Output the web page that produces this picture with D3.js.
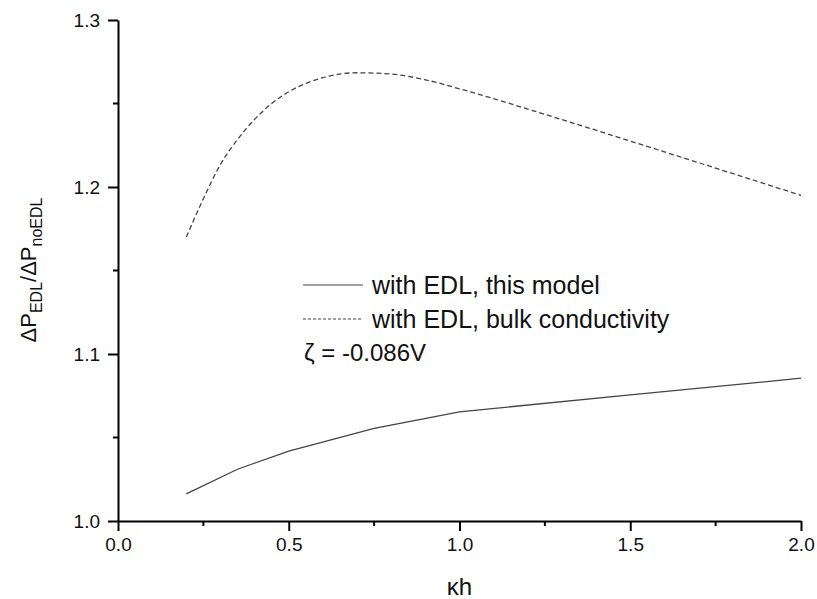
<!DOCTYPE html>
<html>
<head>
<meta charset="utf-8">
<script src="https://cdn.jsdelivr.net/npm/d3@7"></script>
<style>
  html, body { margin: 0; padding: 0; background: #fff; }
  svg { display: block; font-family: "Liberation Sans", Arial, sans-serif; }
</style>
</head>
<body>
<svg id="chart" width="817" height="599"></svg>
<script>
// Pressure-drop ratio versus κh
const modelX = [0.2, 0.35, 0.5, 0.75, 1.0, 1.5, 2.0];
const modelY = [1.0162, 1.031, 1.0419, 1.0555, 1.0654, 1.0755, 1.0855];

const bulkX = [0.2, 0.25, 0.3, 0.35, 0.4, 0.45, 0.5, 0.6, 0.7, 0.8, 0.9, 1.0, 1.25, 1.5, 1.75, 2.0];
const bulkY = [1.170, 1.193, 1.2135, 1.2285, 1.2405, 1.250, 1.257, 1.2655, 1.2684, 1.2676, 1.2642, 1.2588, 1.2435, 1.2275, 1.2113, 1.195];

const xTicks = [0.0, 0.5, 1.0, 1.5, 2.0];
const xMinor = [0.25, 0.75, 1.25, 1.75];
const yTicks = [1.0, 1.1, 1.2, 1.3];
const yMinor = [1.05, 1.15, 1.25];

const legendLabels = ["with EDL, this model", "with EDL, bulk conductivity"];
const zetaLabel = "ζ = -0.086V";

const svg = d3.select("#chart");
const x = d3.scaleLinear().domain([0, 2]).range([118, 801]);
const y = d3.scaleLinear().domain([1.0, 1.3]).range([521, 20]);

const lineColor = "#444";

// axes
const xAxis = d3.axisBottom(x).tickValues(xTicks).tickFormat(d3.format(".1f")).tickSize(10).tickPadding(7).tickSizeOuter(0);
const yAxis = d3.axisLeft(y).tickValues(yTicks).tickFormat(d3.format(".1f")).tickSize(10).tickPadding(8).tickSizeOuter(0);

const gx = svg.append("g").attr("transform", `translate(0,${y(1.0)})`).call(xAxis);
const gy = svg.append("g").attr("transform", `translate(${x(0)},0)`).call(yAxis);

[gx, gy].forEach(g => {
  g.select(".domain").attr("stroke", "#000").attr("stroke-width", 2);
  g.selectAll(".tick line").attr("stroke", "#000").attr("stroke-width", 2);
  g.selectAll(".tick text").attr("fill", "#111").style("font-size", "19px").style("font-family", "'Liberation Sans', Arial, sans-serif");
});

// minor ticks
gx.selectAll(".minor").data(xMinor).enter().append("line")
  .attr("x1", d => x(d)).attr("x2", d => x(d)).attr("y1", 0).attr("y2", 5)
  .attr("stroke", "#000").attr("stroke-width", 2);
gy.selectAll(".minor").data(yMinor).enter().append("line")
  .attr("y1", d => y(d)).attr("y2", d => y(d)).attr("x1", 0).attr("x2", -5)
  .attr("stroke", "#000").attr("stroke-width", 2);

// curves
const line = d3.line().x(d => x(d[0])).y(d => y(d[1]));
const bulkLine = d3.line().x(d => x(d[0])).y(d => y(d[1])).curve(d3.curveMonotoneX);

svg.append("path")
  .datum(modelX.map((v, i) => [v, modelY[i]]))
  .attr("d", line).attr("fill", "none")
  .attr("stroke", lineColor).attr("stroke-width", 1.3);

svg.append("path")
  .datum(bulkX.map((v, i) => [v, bulkY[i]]))
  .attr("d", bulkLine).attr("fill", "none")
  .attr("stroke", lineColor).attr("stroke-width", 1.3)
  .attr("stroke-dasharray", "5,3");

// legend
const legend = svg.append("g");
const legendRows = [
  { label: legendLabels[0], dash: null, yy: 285 },
  { label: legendLabels[1], dash: "3,2", yy: 319 }
];
legendRows.forEach(r => {
  legend.append("line")
    .attr("x1", 303).attr("x2", 363).attr("y1", r.yy).attr("y2", r.yy)
    .attr("stroke", lineColor).attr("stroke-width", 1)
    .attr("stroke-dasharray", r.dash);
  legend.append("text")
    .attr("x", 372).attr("y", r.yy + 9)
    .style("font-size", "25px").attr("fill", "#111")
    .text(r.label);
});
legend.append("text")
  .attr("x", 304).attr("y", 361)
  .style("font-size", "24px").attr("fill", "#111")
  .text(zetaLabel);

// axis titles
svg.append("text")
  .attr("x", x(1.0)).attr("y", 595)
  .attr("text-anchor", "middle")
  .style("font-size", "24px").attr("fill", "#111")
  .text("κh");

const yt = svg.append("text")
  .attr("transform", "translate(36,270) rotate(-90)")
  .attr("text-anchor", "middle")
  .style("font-size", "22px").attr("fill", "#111");
yt.append("tspan").text("ΔP");
yt.append("tspan").attr("dy", 6).style("font-size", "16px").text("EDL");
yt.append("tspan").attr("dy", -6).text("/ΔP");
yt.append("tspan").attr("dy", 6).style("font-size", "16px").text("noEDL");
</script>
</body>
</html>
